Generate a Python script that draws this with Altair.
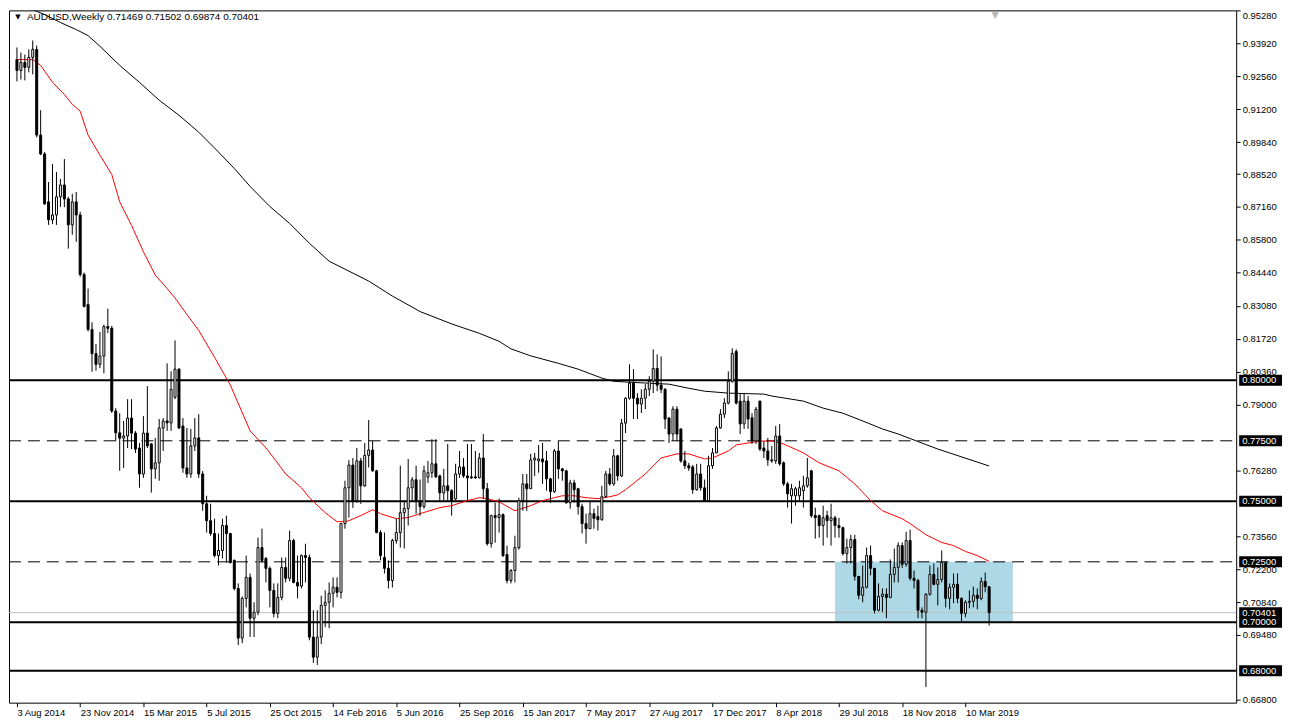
import altair as alt
import pandas as pd

W = 1232
H = 695

# ---------------- weekly candles (AUDUSD, 3 Aug 2014 .. 21 Apr 2019) ----------------
opens = [0.9325,0.9280,0.9313,0.9293,0.9334,0.9367,0.9013,0.8935,0.8737,0.8663,
0.8683,0.8758,0.8807,0.8749,0.8642,0.8737,0.8683,0.8437,0.8313,0.8210,
0.8110,0.8066,0.8100,0.8222,0.8215,0.7873,0.7783,0.7761,0.7770,0.7844,
0.7782,0.7720,0.7613,0.7782,0.7737,0.7634,0.7659,0.7803,0.7832,0.7824,
0.7930,0.8046,0.7811,0.7638,0.7613,0.7729,0.7762,0.7613,0.7490,0.7420,
0.7367,0.7276,0.7297,0.7400,0.7367,0.7256,0.7140,0.6935,0.7099,0.7186,
0.7017,0.7042,0.7309,0.7264,0.7223,0.7132,0.7037,0.7103,0.7227,0.7182,
0.7338,0.7165,0.7150,0.7276,0.7268,0.6939,0.6856,0.6939,0.7070,0.7083,
0.7120,0.7145,0.7124,0.7408,0.7556,0.7650,0.7503,0.7667,0.7564,0.7690,
0.7712,0.7626,0.7371,0.7268,0.7223,0.7173,0.7338,0.7371,0.7453,0.7470,
0.7556,0.7589,0.7503,0.7478,0.7600,0.7618,0.7655,0.7605,0.7535,0.7564,
0.7544,0.7510,0.7613,0.7642,0.7605,0.7601,0.7601,0.7597,0.7679,0.7552,
0.7325,0.7441,0.7433,0.7445,0.7280,0.7173,0.7214,0.7309,0.7503,0.7572,
0.7552,0.7671,0.7667,0.7675,0.7667,0.7593,0.7540,0.7708,0.7634,0.7626,
0.7494,0.7576,0.7552,0.7478,0.7408,0.7387,0.7449,0.7437,0.7424,0.7519,
0.7613,0.7572,0.7688,0.7605,0.7823,0.7926,0.7988,0.7926,0.7902,0.7926,
0.7963,0.7996,0.8049,0.7980,0.7963,0.7844,0.7778,0.7881,0.7799,0.7667,
0.7647,0.7642,0.7548,0.7613,0.7556,0.7503,0.7647,0.7700,0.7803,0.7860,
0.7906,0.7996,0.8119,0.7914,0.7820,0.7914,0.7845,0.7749,0.7914,0.7720,
0.7708,0.7671,0.7667,0.7770,0.7659,0.7572,0.7523,0.7523,0.7523,0.7544,
0.7564,0.7626,0.7441,0.7441,0.7400,0.7441,0.7420,0.7432,0.7400,0.7391,
0.7284,0.7309,0.7342,0.7190,0.7112,0.7145,0.7276,0.7223,0.7050,0.7107,
0.7116,0.7103,0.7198,0.7227,0.7317,0.7240,0.7338,0.7182,0.7173,0.7050,
0.7042,0.7116,0.7198,0.7157,0.7177,0.7247,0.7099,0.7145,0.7157,0.7099,
0.7037,0.7083,0.7087,0.7112,0.7099,0.7169,0.71469]

highs = [0.9375,0.9354,0.9346,0.9367,0.9404,0.9383,0.9116,0.8943,0.8819,0.8893,
0.8860,0.8832,0.8914,0.8758,0.8770,0.8778,0.8696,0.8445,0.8379,0.8240,
0.8150,0.8200,0.8230,0.8296,0.8225,0.7885,0.7864,0.7832,0.7922,0.7922,
0.7790,0.7741,0.7852,0.7976,0.7741,0.7762,0.7840,0.7844,0.8070,0.8037,
0.8165,0.8050,0.7844,0.7803,0.7799,0.7844,0.7860,0.7625,0.7523,0.7490,
0.7428,0.7367,0.7428,0.7441,0.7370,0.7260,0.7161,0.7107,0.7276,0.7202,
0.7083,0.7350,0.7387,0.7270,0.7231,0.7161,0.7161,0.7268,0.7268,0.7379,
0.7345,0.7276,0.7280,0.7325,0.7280,0.7050,0.7050,0.7110,0.7132,0.7165,
0.7186,0.7186,0.7410,0.7585,0.7670,0.7679,0.7720,0.7679,0.7741,0.7836,
0.7749,0.7630,0.7380,0.7371,0.7256,0.7345,0.7428,0.7647,0.7503,0.7675,
0.7600,0.7647,0.7590,0.7647,0.7667,0.7757,0.7757,0.7610,0.7634,0.7737,
0.7550,0.7655,0.7708,0.7679,0.7737,0.7737,0.7708,0.7700,0.7778,0.7576,
0.7445,0.7494,0.7511,0.7450,0.7317,0.7220,0.7358,0.7515,0.7613,0.7613,
0.7696,0.7700,0.7733,0.7741,0.7708,0.7597,0.7716,0.7749,0.7638,0.7630,
0.7589,0.7589,0.7556,0.7490,0.7449,0.7503,0.7470,0.7482,0.7564,0.7626,
0.7638,0.7716,0.7692,0.7840,0.7930,0.8066,0.8046,0.7947,0.7963,0.7984,
0.8017,0.8128,0.8107,0.8099,0.7967,0.7848,0.7893,0.7893,0.7800,0.7708,
0.7659,0.7650,0.7655,0.7655,0.7590,0.7688,0.7720,0.7811,0.7881,0.7926,
0.8037,0.8132,0.8128,0.7947,0.7943,0.7935,0.7864,0.7890,0.7916,0.7749,
0.7762,0.7729,0.7811,0.7819,0.7665,0.7580,0.7572,0.7560,0.7585,0.7605,
0.7679,0.7630,0.7474,0.7445,0.7482,0.7461,0.7490,0.7440,0.7432,0.7395,
0.7346,0.7362,0.7362,0.7190,0.7235,0.7309,0.7317,0.7223,0.7161,0.7140,
0.7140,0.7260,0.7305,0.7330,0.7330,0.7374,0.7383,0.7214,0.7180,0.7062,
0.7120,0.7235,0.7243,0.7227,0.7297,0.7250,0.7161,0.7202,0.7202,0.7103,
0.7091,0.7132,0.7148,0.7140,0.7186,0.7206,0.71502]

lows = [0.9235,0.9243,0.9239,0.9272,0.9264,0.9004,0.8930,0.8725,0.8642,0.8646,
0.8642,0.8716,0.8716,0.8544,0.8601,0.8572,0.8428,0.8301,0.8202,0.8035,
0.8040,0.8050,0.8029,0.8195,0.7865,0.7749,0.7626,0.7638,0.7720,0.7716,
0.7700,0.7556,0.7597,0.7720,0.7536,0.7593,0.7585,0.7708,0.7791,0.7791,
0.7922,0.7799,0.7618,0.7597,0.7597,0.7708,0.7597,0.7461,0.7371,0.7358,
0.7268,0.7235,0.7264,0.7247,0.7243,0.7132,0.6906,0.6914,0.7062,0.6939,
0.6939,0.7030,0.7247,0.7165,0.7062,0.7021,0.7017,0.7091,0.7165,0.7170,
0.7161,0.7099,0.7140,0.7165,0.6926,0.6832,0.6824,0.6910,0.6980,0.6976,
0.7062,0.7103,0.7099,0.7387,0.7433,0.7473,0.7494,0.7490,0.7560,0.7640,
0.7622,0.7368,0.7256,0.7202,0.7140,0.7144,0.7325,0.7309,0.7305,0.7400,
0.7503,0.7449,0.7440,0.7470,0.7576,0.7597,0.7597,0.7503,0.7503,0.7503,
0.7441,0.7503,0.7597,0.7597,0.7503,0.7593,0.7593,0.7595,0.7511,0.7317,
0.7309,0.7329,0.7371,0.7270,0.7161,0.7161,0.7165,0.7300,0.7461,0.7461,
0.7552,0.7605,0.7618,0.7572,0.7544,0.7494,0.7535,0.7593,0.7585,0.7490,
0.7470,0.7494,0.7445,0.7367,0.7325,0.7387,0.7387,0.7379,0.7420,0.7515,
0.7564,0.7564,0.7585,0.7600,0.7782,0.7920,0.7840,0.7840,0.7865,0.7881,
0.7935,0.7947,0.7955,0.7947,0.7799,0.7741,0.7749,0.7749,0.7659,0.7634,
0.7626,0.7531,0.7544,0.7544,0.7500,0.7500,0.7634,0.7700,0.7799,0.7844,
0.7900,0.7990,0.7900,0.7778,0.7799,0.7799,0.7737,0.7737,0.7708,0.7679,
0.7647,0.7659,0.7655,0.7647,0.7564,0.7474,0.7408,0.7482,0.7503,0.7474,
0.7556,0.7432,0.7346,0.7350,0.7317,0.7350,0.7317,0.7350,0.7350,0.7276,
0.7243,0.7243,0.7173,0.7095,0.7083,0.7140,0.7194,0.7037,0.7045,0.7042,
0.7017,0.7100,0.7165,0.7165,0.7225,0.7230,0.7173,0.7140,0.7017,0.7017,
0.6733,0.7110,0.7153,0.7070,0.7165,0.7062,0.7054,0.7079,0.7079,0.7005,
0.7021,0.7058,0.7062,0.7054,0.7091,0.7124,0.69874]

closes = [0.9280,0.9313,0.9293,0.9334,0.9367,0.9013,0.8935,0.8729,0.8663,0.8683,
0.8758,0.8807,0.8749,0.8642,0.8737,0.8683,0.8437,0.8305,0.8210,0.8110,
0.8066,0.8100,0.8222,0.8215,0.7873,0.7783,0.7761,0.7770,0.7844,0.7782,
0.7716,0.7613,0.7782,0.7729,0.7634,0.7659,0.7803,0.7832,0.7824,0.7963,
0.8046,0.7803,0.7638,0.7613,0.7729,0.7762,0.7613,0.7490,0.7420,0.7367,
0.7276,0.7297,0.7400,0.7367,0.7247,0.7140,0.6935,0.7099,0.7186,0.7017,
0.7042,0.7309,0.7256,0.7223,0.7132,0.7037,0.7103,0.7227,0.7182,0.7338,
0.7165,0.7150,0.7276,0.7268,0.6939,0.6856,0.6939,0.7070,0.7083,0.7120,
0.7145,0.7124,0.7408,0.7556,0.7650,0.7503,0.7667,0.7564,0.7690,0.7712,
0.7626,0.7371,0.7276,0.7223,0.7173,0.7338,0.7371,0.7453,0.7470,0.7556,
0.7589,0.7503,0.7478,0.7626,0.7618,0.7655,0.7601,0.7535,0.7564,0.7544,
0.7503,0.7613,0.7642,0.7605,0.7597,0.7597,0.7597,0.7679,0.7552,0.7325,
0.7441,0.7433,0.7445,0.7276,0.7173,0.7214,0.7309,0.7503,0.7572,0.7552,
0.7671,0.7679,0.7675,0.7663,0.7593,0.7540,0.7708,0.7634,0.7626,0.7494,
0.7576,0.7548,0.7478,0.7408,0.7387,0.7449,0.7429,0.7424,0.7519,0.7613,
0.7572,0.7688,0.7605,0.7823,0.7926,0.7988,0.7926,0.7902,0.7926,0.7963,
0.7996,0.8049,0.7980,0.7963,0.7840,0.7778,0.7881,0.7778,0.7667,0.7647,
0.7638,0.7548,0.7613,0.7556,0.7503,0.7647,0.7700,0.7803,0.7860,0.7906,
0.7996,0.8111,0.7906,0.7820,0.7914,0.7840,0.7749,0.7880,0.7716,0.7708,
0.7671,0.7667,0.7770,0.7655,0.7572,0.7531,0.7552,0.7552,0.7556,0.7564,
0.7597,0.7441,0.7432,0.7400,0.7432,0.7420,0.7432,0.7400,0.7391,0.7284,
0.7309,0.7342,0.7190,0.7112,0.7145,0.7276,0.7223,0.7050,0.7107,0.7116,
0.7103,0.7198,0.7227,0.7317,0.7240,0.7338,0.7182,0.7173,0.7050,0.7042,
0.7116,0.7198,0.7157,0.7177,0.7247,0.7099,0.7145,0.7157,0.7099,0.7037,
0.7083,0.7087,0.7112,0.7099,0.7169,0.7147,0.70401]

# ---------------- moving averages ----------------
ma_red_bars = [0,4,6,9,12,14,16,18,21,24,26,29,32,35,38,40,43,46,50,54,59,
63,65,68,72,74,78,81,83,84,87,90,92,96,99,102,107,110,114,117,119,
122,126,130,133,136,138,141,144,147,150,152,154,159,163,167,170,174,176,180,182,
185,188,191,194,199,203,208,212,216,219,224,226,230,234,237,240,243,246]
ma_red_vals = [0.9325,0.9325,0.9301,0.9231,0.9181,0.9140,0.9112,0.9013,0.8930,0.8850,
0.8737,0.8640,0.8531,0.8435,0.8379,0.8340,0.8272,0.8206,0.8095,0.7980,0.7791,
0.7721,0.7679,0.7613,0.7556,0.7515,0.7453,0.7416,0.7416,0.7420,0.7441,
0.7465,0.7449,0.7428,0.7433,0.7449,0.7474,0.7482,0.7503,0.7515,0.7511,
0.7498,0.7461,0.7482,0.7503,0.7515,0.7523,0.7523,0.7515,0.7511,0.7519,
0.7527,0.7548,0.7613,0.7679,0.7696,0.7696,0.7675,0.7679,0.7708,0.7733,
0.7741,0.7749,0.7749,0.7737,0.7700,0.7659,0.7626,0.7572,0.7503,0.7461,
0.7428,0.7408,0.7362,0.7330,0.7317,0.7293,0.7276,0.7252]

ma_black_bars = [0,4,7,11,15,18,21,26,31,36,41,46,51,55,59,64,69,74,79,84,
89,95,102,110,117,122,125,130,137,142,148,151,155,165,170,174,180,189,191,199,
204,209,214,219,223,233,246]
ma_black_vals = [0.9539,0.9531,0.9511,0.9478,0.9449,0.9424,0.9380,0.9301,0.9231,0.9157,
0.9095,0.9025,0.8943,0.8875,0.8801,0.8718,0.8648,0.8566,0.8492,0.8451,
0.8410,0.8348,0.8284,0.8233,0.8194,0.8161,0.8130,0.8101,0.8070,0.8046,
0.8009,0.7996,0.7992,0.7984,0.7967,0.7955,0.7947,0.7943,0.7935,0.7914,
0.7885,0.7864,0.7832,0.7799,0.7778,0.7716,0.7646]

# ---------------- levels, zone, labels ----------------
solid_levels = [0.80, 0.75, 0.70, 0.68]
dashed_levels = [0.775, 0.725]
bid_level = 0.70401
zone_bars = [207, 252]
zone_prices = [0.7000, 0.7250]
tag_levels = [0.80, 0.775, 0.75, 0.725, 0.70401, 0.70, 0.68]
tag_texts = ["0.80000", "0.77500", "0.75000", "0.72500", "0.70401", "0.70000", "0.68000"]
# scale labels that are not covered by the price tags
price_ticks = [0.95280, 0.93920, 0.92560, 0.91200, 0.89840, 0.88520, 0.87160, 0.85800,
               0.84440, 0.83080, 0.81720, 0.80360, 0.79000, 0.76280,
               0.73560, 0.72200, 0.70840, 0.69480, 0.66800]
date_labels = ["3 Aug 2014", "23 Nov 2014", "15 Mar 2015", "5 Jul 2015", "25 Oct 2015",
               "14 Feb 2016", "5 Jun 2016", "25 Sep 2016", "15 Jan 2017", "7 May 2017",
               "27 Aug 2017", "17 Dec 2017", "8 Apr 2018", "29 Jul 2018", "18 Nov 2018",
               "10 Mar 2019"]
date_bars = [16 * k for k in range(len(date_labels))]
header = "AUDUSD,Weekly  0.71469 0.71502 0.69874 0.70401"

FONT = "Liberation Sans"

candles = pd.DataFrame({
    "i": list(range(len(opens))),
    "o": opens, "h": highs, "l": lows, "c": closes,
})
candles["fillc"] = ["white" if c >= o else "black" for o, c in zip(opens, closes)]

xs = alt.Scale(domain=[-0.75, W / 4 - 0.75], nice=False, zero=False)
ys = alt.Scale(domain=[0.66682, 0.95282], nice=False, zero=False)

label_expr = "[" + ",".join("'" + s + "'" for s in date_labels) + "][round(datum.value/16)]"

x_axis = alt.Axis(values=date_bars, labelExpr=label_expr, labelAlign="left",
                  tickSize=4, labelPadding=1, domain=False, grid=False, title=None,
                  labelFlush=False, labelOverlap=False, tickColor="black")
y_axis = alt.Axis(orient="right", values=price_ticks, format=".5f", tickSize=4,
                  labelPadding=2, domain=False, grid=False, title=None,
                  labelFlush=False, labelOverlap=False, tickColor="black",
                  labelBaseline={"condition": {"test": "datum.value > 0.95", "value": "top"},
                                 "value": "middle"})


def X(field):
    return alt.X(field, type="quantitative", scale=xs, axis=x_axis)


def Y(field):
    return alt.Y(field, type="quantitative", scale=ys, axis=y_axis)


base = alt.Chart(candles)

zone = alt.Chart(pd.DataFrame({"i": [zone_bars[0]], "i2": [zone_bars[1]],
                               "l": [zone_prices[0]], "h": [zone_prices[1]]})).mark_rect(
    color="#add8e6").encode(x=X("i"), x2="i2", y=Y("l"), y2="h")

bid = alt.Chart(pd.DataFrame({"l": [bid_level]})).mark_rule(
    color="#c0c0c0", strokeWidth=1).encode(y=Y("l"), x=alt.value(0), x2=alt.value(W))

dashed = alt.Chart(pd.DataFrame({"l": dashed_levels})).mark_rule(
    color="black", strokeWidth=1, strokeDash=[12, 7]).encode(
    y=Y("l"), x=alt.value(0), x2=alt.value(W))

solid = alt.Chart(pd.DataFrame({"l": solid_levels})).mark_rule(
    color="black", strokeWidth=2).encode(y=Y("l"), x=alt.value(0), x2=alt.value(W))

red = alt.Chart(pd.DataFrame({"i": ma_red_bars, "l": ma_red_vals})).mark_line(
    color="#ff0000", strokeWidth=1, clip=True).encode(x=X("i"), y=Y("l"))

blk = alt.Chart(pd.DataFrame({"i": ma_black_bars, "l": ma_black_vals})).mark_line(
    color="black", strokeWidth=1, clip=True).encode(x=X("i"), y=Y("l"))

wicks = base.mark_rule(color="black", strokeWidth=1).encode(
    x=X("i"), y=Y("l"), y2="h")

bodies = base.mark_bar(width=2, stroke="black", strokeWidth=1).encode(
    x=X("i"), y=Y("o"), y2="c", fill=alt.Fill("fillc:N", scale=None))

tags_df = pd.DataFrame({"l": tag_levels, "t": tag_texts})
tags_df["lo"] = tags_df["l"] - 0.00226
tags_df["hi"] = tags_df["l"] + 0.00226
tag_box = alt.Chart(tags_df).mark_rect(color="black").encode(
    y=Y("lo"), y2="hi", x=alt.value(W + 3), x2=alt.value(W + 46))
tag_txt = alt.Chart(tags_df).mark_text(
    color="white", font=FONT, fontSize=9.5, align="left", baseline="middle").encode(
    y=Y("l"), x=alt.value(W + 6), text="t:N")

head = alt.Chart(pd.DataFrame({"t": [header]})).mark_text(
    font=FONT, fontSize=10, align="left", baseline="middle", color="black").encode(
    x=alt.value(18), y=alt.value(7), text="t:N")
tri = alt.Chart(pd.DataFrame({"t": ["\u25bc"]})).mark_text(
    font="DejaVu Sans", fontSize=7, align="center", baseline="middle", color="black").encode(
    x=alt.value(9), y=alt.value(7), text="t:N")
shift_mark = alt.Chart(pd.DataFrame({"t": ["\u25bc"]})).mark_text(
    font="DejaVu Sans", fontSize=9, align="center", baseline="middle", color="#b4b4b4").encode(
    x=alt.value(990), y=alt.value(5), text="t:N")

chart = alt.layer(
    zone, bid, dashed, solid, red, blk, wicks, bodies, tag_box, tag_txt, head, tri, shift_mark
).properties(
    width=W, height=H, padding={"left": 0, "top": 0, "right": 2, "bottom": 0}
).configure_view(
    stroke="black", strokeWidth=1
).configure_axis(
    labelFont=FONT, labelFontSize=9.5, labelColor="black"
)

chart.save("out.html", embed_options={"renderer": "svg", "actions": False})
